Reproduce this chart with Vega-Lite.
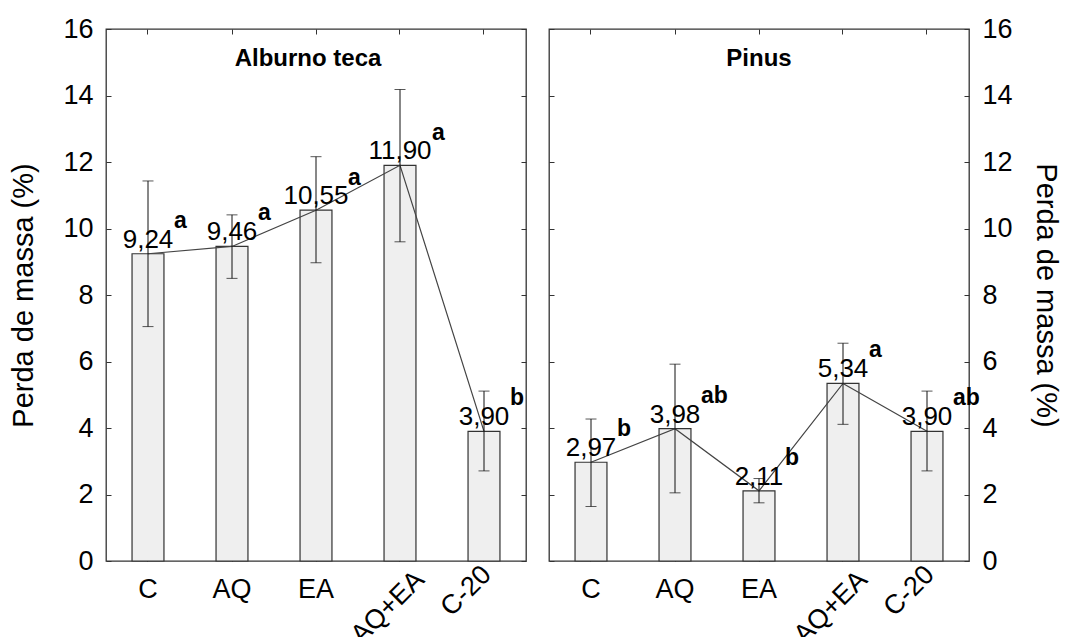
{
  "$schema": "https://vega.github.io/schema/vega-lite/v6.json",
  "background": "white",
  "padding": {"left": 9, "top": 14, "right": 5, "bottom": 5},
  "spacing": 23,
  "bounds": "flush",
  "config": {
    "locale": {"number": {"decimal": ",", "thousands": ".", "grouping": [3], "currency": ["", ""]}},
    "font": "Liberation Sans",
    "view": {"stroke": "#333", "strokeWidth": 1.3},
    "axis": {
      "labelFont": "Liberation Sans", "labelFontSize": 27, "labelColor": "#000",
      "titleFont": "Liberation Sans", "titleFontSize": 29, "titleFontWeight": "normal", "titleColor": "#000",
      "domain": false, "grid": false, "tickColor": "#333", "tickWidth": 1, "tickSize": -5,
      "labelOverlap": false
    },
    "text": {"font": "Liberation Sans", "color": "#000"}
  },
  "datasets": {
    "d": [
      {"madeira": "Alburno teca", "trat": "C", "media": 9.24, "lo": 7.05, "hi": 11.43, "letra": "a"},
      {"madeira": "Alburno teca", "trat": "AQ", "media": 9.46, "lo": 8.50, "hi": 10.41, "letra": "a"},
      {"madeira": "Alburno teca", "trat": "EA", "media": 10.55, "lo": 8.97, "hi": 12.16, "letra": "a"},
      {"madeira": "Alburno teca", "trat": "AQ+EA", "media": 11.90, "lo": 9.60, "hi": 14.18, "letra": "a"},
      {"madeira": "Alburno teca", "trat": "C-20", "media": 3.90, "lo": 2.71, "hi": 5.11, "letra": "b"},
      {"madeira": "Pinus", "trat": "C", "media": 2.97, "lo": 1.64, "hi": 4.27, "letra": "b"},
      {"madeira": "Pinus", "trat": "AQ", "media": 3.98, "lo": 2.05, "hi": 5.92, "letra": "ab"},
      {"madeira": "Pinus", "trat": "EA", "media": 2.11, "lo": 1.75, "hi": 2.48, "letra": "b"},
      {"madeira": "Pinus", "trat": "AQ+EA", "media": 5.34, "lo": 4.11, "hi": 6.55, "letra": "a"},
      {"madeira": "Pinus", "trat": "C-20", "media": 3.90, "lo": 2.71, "hi": 5.11, "letra": "ab"}
    ]
  },
  "hconcat": [
    {
      "width": 420, "height": 532,
      "data": {"name": "d"},
      "transform": [{"filter": "datum.madeira === 'Alburno teca'"}],
      "layer": [
        {
          "mark": {"type": "bar", "fill": "#efefef", "stroke": "#333", "strokeWidth": 1.2},
          "encoding": {
            "x": {"field": "trat", "type": "nominal", "sort": ["C", "AQ", "EA", "AQ+EA", "C-20"],
              "scale": {"paddingInner": 0.62, "paddingOuter": 0.31}, "title": null,
              "axis": {"orient": "bottom",
                "labelAngle": {"expr": "(datum.value === 'AQ+EA' || datum.value === 'C-20') ? -45 : 0"},
                "labelAlign": {"condition": {"test": "datum.value === 'AQ+EA' || datum.value === 'C-20'", "value": "right"}, "value": "center"},
                "labelBaseline": {"condition": {"test": "datum.value === 'AQ+EA' || datum.value === 'C-20'", "value": "middle"}, "value": "top"},
                "labelPadding": {"condition": [{"test": "datum.value === 'AQ+EA'", "value": 19}, {"test": "datum.value === 'C-20'", "value": 14}], "value": 20},
                "labelOffset": {"condition": [{"test": "datum.value === 'AQ+EA'", "value": 20}, {"test": "datum.value === 'C-20'", "value": 3}], "value": 0}
              }},
            "y": {"field": "media", "type": "quantitative", "scale": {"domain": [0, 16], "nice": false},
              "axis": {"orient": "left", "title": "Perda de massa (%)", "values": [0, 2, 4, 6, 8, 10, 12, 14, 16], "labelPadding": 18, "titlePadding": 24}}
          }
        },
        {
          "mark": {"type": "line", "color": "#444", "strokeWidth": 1.2},
          "encoding": {
            "x": {"field": "trat", "type": "nominal", "sort": ["C", "AQ", "EA", "AQ+EA", "C-20"], "axis": null},
            "y": {"field": "media", "type": "quantitative", "axis": null}
          }
        },
        {
          "mark": {"type": "rule", "color": "#111", "strokeWidth": 1},
          "encoding": {
            "x": {"field": "trat", "type": "nominal", "sort": ["C", "AQ", "EA", "AQ+EA", "C-20"],
              "axis": {"orient": "top", "labels": false, "title": null}},
            "y": {"field": "lo", "type": "quantitative",
              "axis": {"orient": "right", "labels": false, "title": null, "values": [0, 2, 4, 6, 8, 10, 12, 14, 16]}},
            "y2": {"field": "hi"}
          }
        },
        {
          "mark": {"type": "tick", "color": "#111", "thickness": 1, "size": 11, "orient": "horizontal"},
          "encoding": {
            "x": {"field": "trat", "type": "nominal", "sort": ["C", "AQ", "EA", "AQ+EA", "C-20"], "axis": null},
            "y": {"field": "lo", "type": "quantitative", "axis": null}
          }
        },
        {
          "mark": {"type": "tick", "color": "#111", "thickness": 1, "size": 11, "orient": "horizontal"},
          "encoding": {
            "x": {"field": "trat", "type": "nominal", "sort": ["C", "AQ", "EA", "AQ+EA", "C-20"], "axis": null},
            "y": {"field": "hi", "type": "quantitative", "axis": null}
          }
        },
        {
          "mark": {"type": "text", "fontSize": 26, "baseline": "alphabetic", "dy": -6},
          "encoding": {
            "x": {"field": "trat", "type": "nominal", "sort": ["C", "AQ", "EA", "AQ+EA", "C-20"], "axis": null},
            "y": {"field": "media", "type": "quantitative", "axis": null},
            "text": {"field": "media", "type": "quantitative", "format": ".2f"}
          }
        },
        {
          "transform": [{"filter": "datum.media < 10"}],
          "mark": {"type": "text", "fontSize": 23, "fontWeight": "bold", "align": "left", "baseline": "alphabetic", "dx": 26, "dy": -26},
          "encoding": {
            "x": {"field": "trat", "type": "nominal", "sort": ["C", "AQ", "EA", "AQ+EA", "C-20"], "axis": null},
            "y": {"field": "media", "type": "quantitative", "axis": null},
            "text": {"field": "letra"}
          }
        },
        {
          "transform": [{"filter": "datum.media >= 10"}],
          "mark": {"type": "text", "fontSize": 23, "fontWeight": "bold", "align": "left", "baseline": "alphabetic", "dx": 32, "dy": -25},
          "encoding": {
            "x": {"field": "trat", "type": "nominal", "sort": ["C", "AQ", "EA", "AQ+EA", "C-20"], "axis": null},
            "y": {"field": "media", "type": "quantitative", "axis": null},
            "text": {"field": "letra"}
          }
        },
        {
          "data": {"values": [{"t": "Alburno teca"}]},
          "mark": {"type": "text", "fontSize": 24, "fontWeight": "bold", "baseline": "alphabetic", "dx": -8},
          "encoding": {
            "x": {"datum": "EA", "type": "nominal", "axis": null},
            "y": {"datum": 14.9, "type": "quantitative", "axis": null},
            "text": {"field": "t"}
          }
        }
      ],
      "resolve": {"axis": {"x": "independent", "y": "independent"}}
    },
    {
      "width": 420, "height": 532,
      "data": {"name": "d"},
      "transform": [{"filter": "datum.madeira === 'Pinus'"}],
      "layer": [
        {
          "mark": {"type": "bar", "fill": "#efefef", "stroke": "#333", "strokeWidth": 1.2},
          "encoding": {
            "x": {"field": "trat", "type": "nominal", "sort": ["C", "AQ", "EA", "AQ+EA", "C-20"],
              "scale": {"paddingInner": 0.62, "paddingOuter": 0.31}, "title": null,
              "axis": {"orient": "bottom",
                "labelAngle": {"expr": "(datum.value === 'AQ+EA' || datum.value === 'C-20') ? -45 : 0"},
                "labelAlign": {"condition": {"test": "datum.value === 'AQ+EA' || datum.value === 'C-20'", "value": "right"}, "value": "center"},
                "labelBaseline": {"condition": {"test": "datum.value === 'AQ+EA' || datum.value === 'C-20'", "value": "middle"}, "value": "top"},
                "labelPadding": {"condition": [{"test": "datum.value === 'AQ+EA'", "value": 19}, {"test": "datum.value === 'C-20'", "value": 14}], "value": 20},
                "labelOffset": {"condition": [{"test": "datum.value === 'AQ+EA'", "value": 20}, {"test": "datum.value === 'C-20'", "value": 3}], "value": 0}
              }},
            "y": {"field": "media", "type": "quantitative", "scale": {"domain": [0, 16], "nice": false},
              "axis": {"orient": "right", "title": "Perda de massa (%)", "values": [0, 2, 4, 6, 8, 10, 12, 14, 16], "labelPadding": 18, "titlePadding": 18}}
          }
        },
        {
          "mark": {"type": "line", "color": "#444", "strokeWidth": 1.2},
          "encoding": {
            "x": {"field": "trat", "type": "nominal", "sort": ["C", "AQ", "EA", "AQ+EA", "C-20"], "axis": null},
            "y": {"field": "media", "type": "quantitative", "axis": null}
          }
        },
        {
          "mark": {"type": "rule", "color": "#111", "strokeWidth": 1},
          "encoding": {
            "x": {"field": "trat", "type": "nominal", "sort": ["C", "AQ", "EA", "AQ+EA", "C-20"],
              "axis": {"orient": "top", "labels": false, "title": null}},
            "y": {"field": "lo", "type": "quantitative",
              "axis": {"orient": "left", "labels": false, "title": null, "values": [0, 2, 4, 6, 8, 10, 12, 14, 16]}},
            "y2": {"field": "hi"}
          }
        },
        {
          "mark": {"type": "tick", "color": "#111", "thickness": 1, "size": 11, "orient": "horizontal"},
          "encoding": {
            "x": {"field": "trat", "type": "nominal", "sort": ["C", "AQ", "EA", "AQ+EA", "C-20"], "axis": null},
            "y": {"field": "lo", "type": "quantitative", "axis": null}
          }
        },
        {
          "mark": {"type": "tick", "color": "#111", "thickness": 1, "size": 11, "orient": "horizontal"},
          "encoding": {
            "x": {"field": "trat", "type": "nominal", "sort": ["C", "AQ", "EA", "AQ+EA", "C-20"], "axis": null},
            "y": {"field": "hi", "type": "quantitative", "axis": null}
          }
        },
        {
          "mark": {"type": "text", "fontSize": 26, "baseline": "alphabetic", "dy": -6},
          "encoding": {
            "x": {"field": "trat", "type": "nominal", "sort": ["C", "AQ", "EA", "AQ+EA", "C-20"], "axis": null},
            "y": {"field": "media", "type": "quantitative", "axis": null},
            "text": {"field": "media", "type": "quantitative", "format": ".2f"}
          }
        },
        {
          "mark": {"type": "text", "fontSize": 23, "fontWeight": "bold", "align": "left", "baseline": "alphabetic", "dx": 26, "dy": -26},
          "encoding": {
            "x": {"field": "trat", "type": "nominal", "sort": ["C", "AQ", "EA", "AQ+EA", "C-20"], "axis": null},
            "y": {"field": "media", "type": "quantitative", "axis": null},
            "text": {"field": "letra"}
          }
        },
        {
          "data": {"values": [{"t": "Pinus"}]},
          "mark": {"type": "text", "fontSize": 24, "fontWeight": "bold", "baseline": "alphabetic"},
          "encoding": {
            "x": {"datum": "EA", "type": "nominal", "axis": null},
            "y": {"datum": 14.9, "type": "quantitative", "axis": null},
            "text": {"field": "t"}
          }
        }
      ],
      "resolve": {"axis": {"x": "independent", "y": "independent"}}
    }
  ]
}
